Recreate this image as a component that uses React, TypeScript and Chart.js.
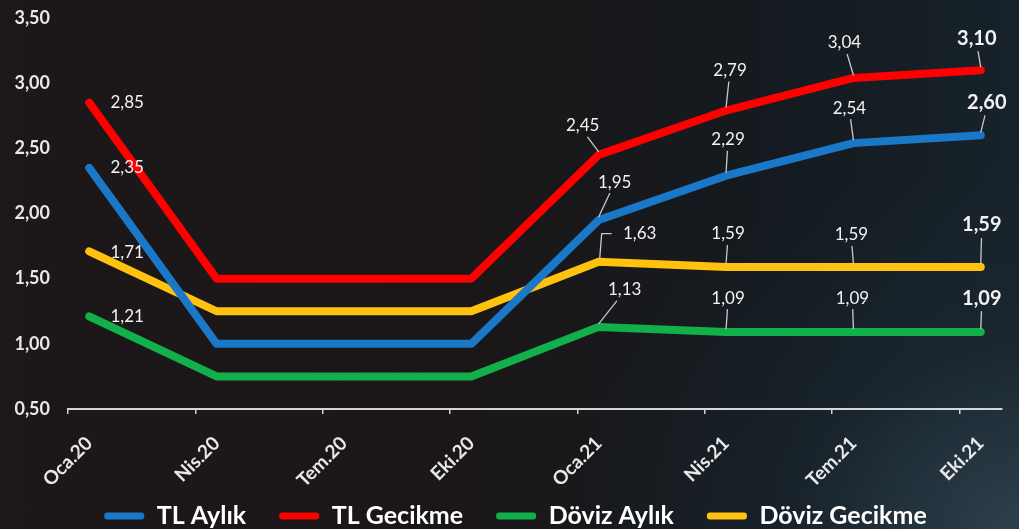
import React, { useEffect, useRef } from 'react';
import { Chart, registerables } from 'chart.js';

Chart.register(...registerables);

const months = [
  'Oca.20', 'Şub.20', 'Mar.20', 'Nis.20', 'May.20', 'Haz.20', 'Tem.20', 'Ağu.20', 'Eyl.20', 'Eki.20', 'Kas.20', 'Ara.20',
  'Oca.21', 'Şub.21', 'Mar.21', 'Nis.21', 'May.21', 'Haz.21', 'Tem.21', 'Ağu.21', 'Eyl.21', 'Eki.21',
];
const shownTicks = ['Oca.20', 'Nis.20', 'Tem.20', 'Eki.20', 'Oca.21', 'Nis.21', 'Tem.21', 'Eki.21'];

const tlAylik = [2.35, null, null, 1.0, null, null, 1.0, null, null, 1.0, null, null, 1.95, null, null, 2.29, null, null, 2.54, null, null, 2.6];
const tlGecikme = [2.85, null, null, 1.5, null, null, 1.5, null, null, 1.5, null, null, 2.45, null, null, 2.79, null, null, 3.04, null, null, 3.1];
const dovizAylik = [1.21, null, null, 0.75, null, null, 0.75, null, null, 0.75, null, null, 1.13, null, null, 1.09, null, null, 1.09, null, null, 1.09];
const dovizGecikme = [1.71, null, null, 1.25, null, null, 1.25, null, null, 1.25, null, null, 1.63, null, null, 1.59, null, null, 1.59, null, null, 1.59];

const seriesNames = ['TL Aylık', 'TL Gecikme', 'Döviz Aylık', 'Döviz Gecikme'];
const seriesColors = ['#1a78c8', '#ff0000', '#12b04a', '#ffc20e'];

// label placement (offset of label centre from point, leader style), per series
type Place = [number, number, string];
const placements: Record<number, Place>[] = [
  { 0: [38, 0, 'none'], 12: [16, -38, 'line'], 15: [2, -36, 'line'], 18: [-4, -35, 'line'], 21: [6, -33, 'line'] },
  { 0: [38, 0, 'none'], 12: [-16, -29, 'line'], 15: [4, -40, 'line'], 18: [-9, -35, 'line'], 21: [-4, -32, 'line'] },
  { 0: [38, 0, 'none'], 12: [26, -37, 'line'], 15: [2, -34, 'line'], 18: [-1, -34, 'line'], 21: [1, -34, 'line'] },
  { 0: [38, 1, 'none'], 12: [41, -28, 'elbow'], 15: [2, -33, 'line'], 18: [-2, -32, 'line'], 21: [1, -42, 'line'] },
];

const FONT = 'Lato, "Open Sans", sans-serif';
const LEGEND_SHIFT_X = 14.5;
const LEGEND_SHIFT_Y = -15.5;

const labelPlugin = {
  id: 'valueLabels',
  afterLayout(chart: any) {
    if (chart.legend) {
      chart.legend.left += LEGEND_SHIFT_X;
      chart.legend.right += LEGEND_SHIFT_X;
      chart.legend.top += LEGEND_SHIFT_Y;
      chart.legend.bottom += LEGEND_SHIFT_Y;
    }
  },
  afterDatasetsDraw(chart: any) {
    const ctx = chart.ctx;
    const last = months.length - 1;
    chart.data.datasets.forEach((ds: any, di: number) => {
      const meta = chart.getDatasetMeta(di);
      const place = placements[di];
      Object.keys(place).forEach((k) => {
        const i = Number(k);
        const v = ds.data[i];
        if (v == null) return;
        const pt = meta.data[i];
        const px = pt.x;
        const py = pt.y;
        const [dx, dy, kind] = place[i];
        const cx = px + dx;
        const cy = py + dy;
        const bold = i === last;
        ctx.save();
        ctx.strokeStyle = '#c8c8c8';
        ctx.lineWidth = 1.3;
        if (kind === 'line') {
          ctx.beginPath();
          const sx = cx + (px - cx) * 0.3;
          ctx.moveTo(sx, cy + (bold ? 13 : 11));
          ctx.lineTo(px, py - 3);
          ctx.stroke();
        } else if (kind === 'elbow') {
          ctx.beginPath();
          ctx.moveTo(cx - 28, cy);
          ctx.lineTo(px + 3, cy);
          ctx.lineTo(px + 1, py - 3);
          ctx.stroke();
        }
        ctx.font = (bold ? 'bold 20px ' : '17px ') + FONT;
        ctx.fillStyle = '#f2f2f2';
        ctx.textAlign = 'center';
        ctx.textBaseline = 'middle';
        ctx.fillText(v.toFixed(2).replace('.', ','), cx, cy);
        ctx.restore();
      });
    });
  },
};

export default function App() {
  const ref = useRef<HTMLCanvasElement | null>(null);
  useEffect(() => {
    if (!ref.current) return;
    const data = [tlAylik, tlGecikme, dovizAylik, dovizGecikme];
    const chart = new Chart(ref.current, {
      type: 'line',
      data: {
        labels: months,
        datasets: data.map((d, i) => ({
          label: seriesNames[i],
          data: d,
          borderColor: seriesColors[i],
          backgroundColor: seriesColors[i],
          borderWidth: 8,
          pointRadius: 0,
          pointHoverRadius: 0,
          tension: 0,
          spanGaps: true,
          borderCapStyle: 'round',
          borderJoinStyle: 'round',
        })),
      },
      options: {
        responsive: false,
        animation: false,
        layout: { padding: { top: 18, right: 17, left: 0, bottom: 0 } },
        plugins: {
          tooltip: { enabled: false },
          legend: {
            position: 'bottom',
            labels: {
              color: '#ffffff',
              font: { family: FONT, size: 25, weight: 'bold' },
              boxWidth: 40,
              boxHeight: 7,
              padding: 33,
              useBorderRadius: true,
              borderRadius: 3,
              generateLabels: (chart: any) =>
                Chart.defaults.plugins.legend.labels
                  .generateLabels(chart)
                  .map((l: any) => ({ ...l, lineWidth: 0, strokeStyle: 'rgba(0,0,0,0)' })),
            },
          },
        },
        scales: {
          x: {
            offset: true,
            grid: {
              offset: true,
              drawOnChartArea: false,
              drawTicks: true,
              tickLength: 5,
              lineWidth: 1.5,
              color: (c: any) => (c.index !== undefined && shownTicks.includes(months[c.index]) ? '#d0d0d0' : 'rgba(0,0,0,0)'),
            },
            border: { display: true, color: '#d6d6d6', width: 2 },
            ticks: {
              autoSkip: false,
              minRotation: 45,
              maxRotation: 45,
              padding: 18,
              color: '#e8e8e8',
              font: { family: FONT, size: 19, weight: 'bold' },
              callback: (_v: any, idx: number) => (shownTicks.includes(months[idx]) ? months[idx] : ''),
            },
            afterFit: (s: any) => {
              s.height = 77;
            },
          },
          y: {
            min: 0.5,
            max: 3.5,
            grid: { display: false, drawTicks: false },
            border: { display: false },
            ticks: {
              stepSize: 0.5,
              padding: 18,
              color: '#e8e8e8',
              font: { family: FONT, size: 18, weight: 'bold' },
              callback: (v: any) => Number(v).toFixed(2).replace('.', ','),
            },
            afterFit: (s: any) => {
              s.width = 68;
              s.paddingTop = 0;
              s.paddingBottom = 0;
            },
          },
        },
      },
      plugins: [labelPlugin],
    } as any);
    return () => chart.destroy();
  }, []);

  return (
    <div
      style={{
        position: 'fixed',
        left: 0,
        top: 0,
        width: 1019,
        height: 529,
        overflow: 'hidden',
        background:
          'radial-gradient(ellipse 45% 70% at 100% 100%, rgba(52,74,88,0.75) 0%, rgba(30,45,56,0.4) 50%, rgba(0,0,0,0) 100%), linear-gradient(90deg, #1c1718 0%, #1b1718 45%, #141a1f 75%, #17222a 100%)',
      }}
    >
      <canvas ref={ref} width={1019} height={554} style={{ display: 'block' }} />
    </div>
  );
}
